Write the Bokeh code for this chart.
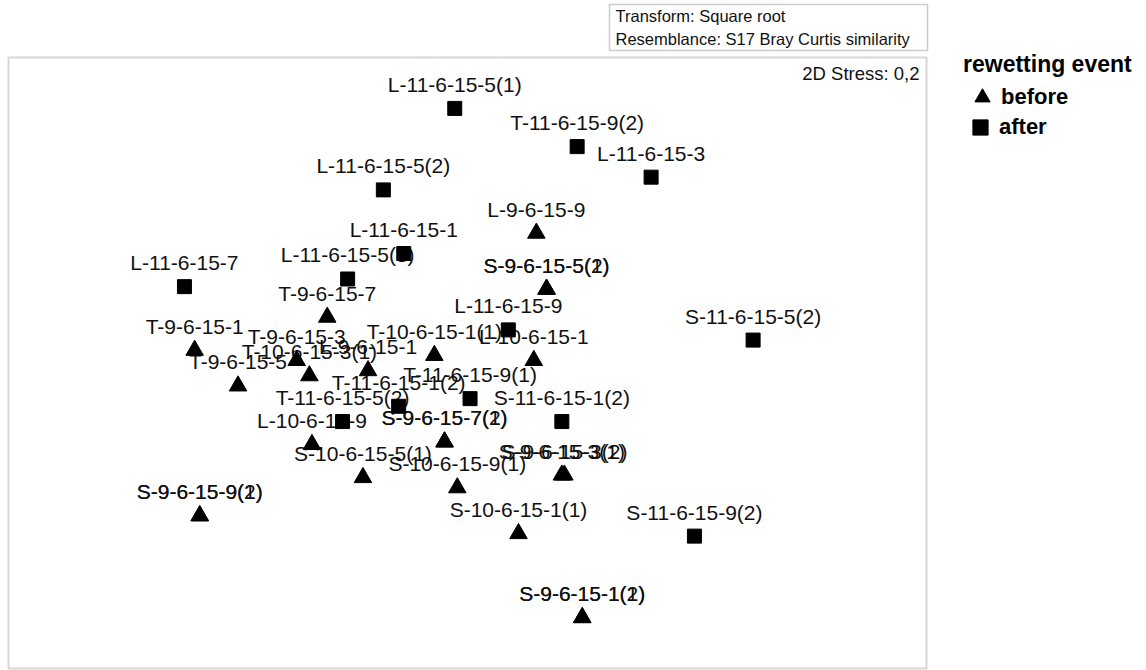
from bokeh.plotting import figure
from bokeh.models import (ColumnDataSource, Range1d, BoxAnnotation, Label,
                          Legend, LegendItem)
from bokeh.core.properties import value
from bokeh.embed import file_html
from bokeh.resources import INLINE

# ---- data: NMDS coordinates ----
before_labels = ["L-9-6-15-9", "S-9-6-15-5(1)", "S-9-6-15-5(2)", "T-9-6-15-7",
                 "T-9-6-15-1", "T-9-6-15-3", "T-10-6-15-3(1)", "L-9-6-15-1",
                 "T-9-6-15-5", "T-10-6-15-1(1)", "L-10-6-15-1", "L-10-6-15-9",
                 "S-9-6-15-7(1)", "S-9-6-15-7(2)", "S-10-6-15-5(1)",
                 "S-9-6-15-3(1)", "S-9-6-15-3(2)", "S-10-6-15-9(1)",
                 "S-9-6-15-9(1)", "S-9-6-15-9(2)", "S-10-6-15-1(1)",
                 "S-9-6-15-1(1)", "S-9-6-15-1(2)"]
before_x = [0.27, 0.31, 0.31, -0.55, -1.07, -0.67, -0.62, -0.39, -0.90, -0.13,
            0.26, -0.61, -0.09, -0.09, -0.41, 0.37, 0.38, -0.04, -1.05, -1.05,
            0.20, 0.45, 0.45]
before_y = [0.51, 0.29, 0.29, 0.18, 0.05, 0.01, -0.05, -0.03, -0.09, 0.03,
            0.01, -0.32, -0.31, -0.31, -0.45, -0.44, -0.44, -0.49, -0.60, -0.60,
            -0.67, -1.00, -1.00]

after_labels = ["L-11-6-15-5(1)", "T-11-6-15-9(2)", "L-11-6-15-3", "L-11-6-15-5(2)",
                "L-11-6-15-1", "L-11-6-15-5(3)", "L-11-6-15-7", "L-11-6-15-9",
                "S-11-6-15-5(2)", "T-11-6-15-9(1)", "T-11-6-15-1(2)",
                "T-11-6-15-5(2)", "S-11-6-15-1(2)", "S-11-6-15-9(2)"]
after_x = [-0.05, 0.43, 0.72, -0.33, -0.25, -0.47, -1.11, 0.16, 1.12, 0.01,
           -0.27, -0.49, 0.37, 0.89]
after_y = [1.00, 0.85, 0.73, 0.68, 0.43, 0.33, 0.30, 0.13, 0.09, -0.14,
           -0.17, -0.23, -0.23, -0.68]

legend_title = "rewetting event"
header_lines = ["Transform: Square root", "Resemblance: S17 Bray Curtis similarity"]
stress_text = "2D Stress: 0,2"

# ---- layout constants (pixels) ----
W, H = 1146, 670
BOX_LEFT_PX, BOX_RIGHT_PX = 8, 926
BOX_TOP_PX, BOX_BOTTOM_PX = 57, 668
XMIN, XMAX, YMIN, YMAX = -1.8, 1.8, -1.2, 1.2
kx = (XMAX - XMIN) / (BOX_RIGHT_PX - BOX_LEFT_PX)
ky = (YMAX - YMIN) / (BOX_BOTTOM_PX - BOX_TOP_PX)
x_range = Range1d(XMIN - BOX_LEFT_PX * kx, XMAX + (W - BOX_RIGHT_PX) * kx)
y_range = Range1d(YMIN - (H - BOX_BOTTOM_PX) * ky, YMAX + BOX_TOP_PX * ky)

p = figure(width=W, height=H, x_range=x_range, y_range=y_range,
           output_backend="svg", toolbar_location=None,
           x_axis_location=None, y_axis_location=None,
           min_border=0, outline_line_color=None,
           background_fill_color="white", border_fill_color="white")
p.xgrid.visible = False
p.ygrid.visible = False

src_b = ColumnDataSource(dict(x=before_x, y=before_y, label=before_labels))
src_a = ColumnDataSource(dict(x=after_x, y=after_y, label=after_labels))

FONT = "Liberation Sans"
for src in (src_b, src_a):
    p.text(x="x", y="y", text="label", source=src, text_align="center",
           text_baseline="middle", y_offset=-24, text_font=value(FONT),
           text_font_size="21px", text_color="#111111")

tri = p.scatter(x="x", y="y", source=src_b, marker="triangle", size=17.5,
                fill_color="black", line_color="black")
sq = p.scatter(x="x", y="y", source=src_a, marker="square", size=14,
               fill_color="black", line_color="black")

# NMDS frame
p.add_layout(BoxAnnotation(left=XMIN, right=XMAX, bottom=YMIN, top=YMAX,
                           fill_color=None, line_color="#7a7a7a", line_width=2))

# header box
p.add_layout(BoxAnnotation(left=609, right=927, top=H - 4, bottom=H - 50,
                           left_units="screen", right_units="screen",
                           top_units="screen", bottom_units="screen",
                           fill_color="white", line_color="#555555", line_width=1.5))
for i, t in enumerate(header_lines):
    p.add_layout(Label(x=615, y=H - 15 - 23 * i, x_units="screen", y_units="screen",
                       text=t, text_align="left", text_baseline="middle",
                       text_font=FONT, text_font_size="16.5px", text_color="#111111"))

p.add_layout(Label(x=919, y=H - 73, x_units="screen", y_units="screen",
                   text=stress_text, text_align="right", text_baseline="middle",
                   text_font=FONT, text_font_size="18.5px", text_color="#111111"))

legend_style = dict(glyph_width=38, glyph_height=38, padding=2, margin=0,
                    label_standoff=0, title_standoff=0,
                    border_line_color=None, background_fill_alpha=0,
                    label_text_font=FONT, label_text_font_style="bold",
                    label_text_font_size="22px", label_text_color="black",
                    title_text_font=FONT, title_text_font_style="bold",
                    title_text_font_size="23px", title_text_color="black")
legend_before = Legend(items=[LegendItem(label="before", renderers=[tri])],
                       title=legend_title, location=(963, H - 116), **legend_style)
legend_after = Legend(items=[LegendItem(label="after", renderers=[sq])],
                      location=(961, H - 146), **legend_style)
p.add_layout(legend_before)
p.add_layout(legend_after)

open("out.html", "w").write(file_html(p, INLINE))
